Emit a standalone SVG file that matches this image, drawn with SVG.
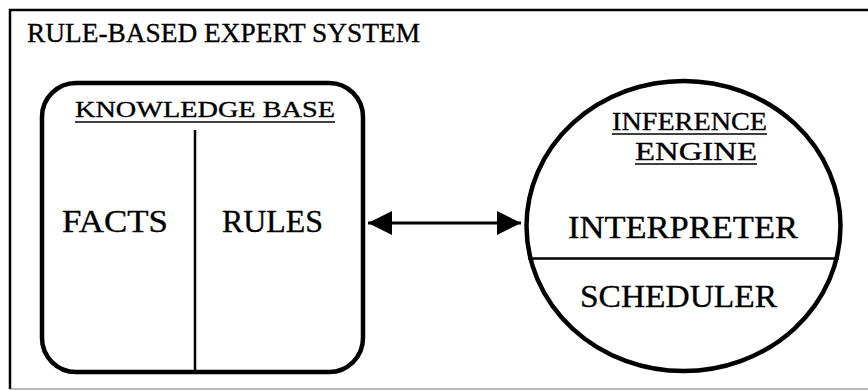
<svg xmlns="http://www.w3.org/2000/svg" width="868" height="390" viewBox="0 0 868 390">
  <style>
    text { font-family: "Liberation Serif", "Times New Roman", serif; fill: #000; stroke: #000; stroke-width: 0.35; }
    .title { font-size: 28px; }
    .big { font-size: 31px; }
    .frame { fill: none; stroke: #000; }
    .shape { fill: none; stroke: #000; stroke-width: 4.5; }
    .div { stroke: #000; stroke-width: 2.5; }
    .ul { stroke: #000; stroke-width: 1.3; }
  </style>
  <defs>
    <marker id="arrowhead" viewBox="0 0 10 10" refX="10" refY="5" markerWidth="8.5" markerHeight="8" markerUnits="strokeWidth" orient="auto-start-reverse">
      <path d="M0,0 L10,5 L0,10 Z" fill="#000"/>
    </marker>
  </defs>

  <rect width="868" height="390" fill="#fff"/>

  <!-- outer system frame -->
  <g id="system">
    <path class="frame" d="M868,10 H10 V389" stroke-width="2.5"/>
    <line x1="10" y1="389" x2="868" y2="389" stroke="#777" stroke-width="1.2"/>
    <text class="title" x="27" y="42" textLength="393" lengthAdjust="spacingAndGlyphs">RULE-BASED EXPERT SYSTEM</text>
  </g>

  <!-- knowledge base -->
  <g id="knowledge-base">
    <rect class="shape" x="42" y="83" width="321" height="289" rx="34" ry="34"/>
    <text x="75" y="117" font-size="23" textLength="260" lengthAdjust="spacingAndGlyphs">KNOWLEDGE BASE</text>
    <line class="ul" x1="75" y1="122" x2="335" y2="122"/>
    <line class="div" x1="195" y1="130" x2="195" y2="372"/>
    <text class="big" x="62" y="232" textLength="106" lengthAdjust="spacingAndGlyphs">FACTS</text>
    <text class="big" x="222" y="232" textLength="101" lengthAdjust="spacingAndGlyphs">RULES</text>
  </g>

  <!-- inference engine -->
  <g id="inference-engine">
    <ellipse class="shape" cx="683.5" cy="226" rx="157" ry="145"/>
    <text x="612" y="130" font-size="26" textLength="155" lengthAdjust="spacingAndGlyphs">INFERENCE</text>
    <line class="ul" x1="612" y1="134" x2="767" y2="134"/>
    <text x="635" y="160" font-size="26" textLength="122" lengthAdjust="spacingAndGlyphs">ENGINE</text>
    <line class="ul" x1="635" y1="164" x2="757" y2="164"/>
    <text class="big" x="568" y="238" textLength="230" lengthAdjust="spacingAndGlyphs">INTERPRETER</text>
    <line class="div" x1="528" y1="258.5" x2="839" y2="258.5" stroke-width="3"/>
    <text class="big" x="580" y="307" textLength="197" lengthAdjust="spacingAndGlyphs">SCHEDULER</text>
  </g>

  <!-- connectors -->
  <g id="connectors">
    <line x1="368" y1="223" x2="521" y2="223" stroke="#000" stroke-width="3" marker-start="url(#arrowhead)" marker-end="url(#arrowhead)"/>
  </g>
</svg>
